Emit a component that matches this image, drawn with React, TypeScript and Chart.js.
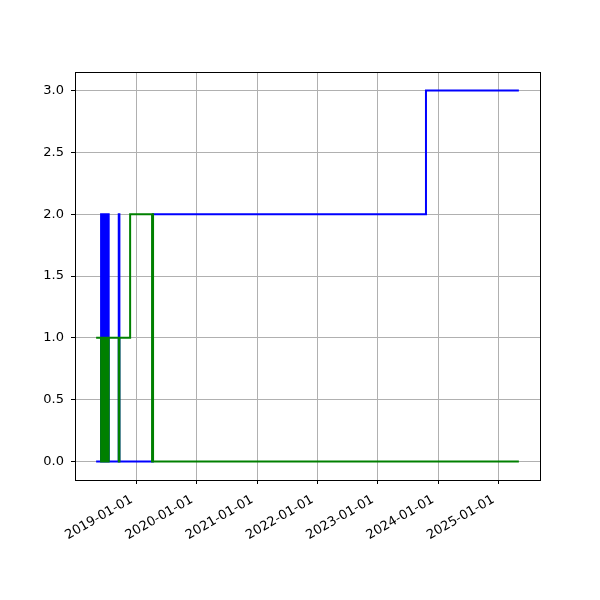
import React, { useEffect, useRef } from "react";
import { Chart, registerables } from "chart.js";

Chart.register(...registerables);

// Step-change points (value holds from this date until the next one)
const blueDates = [
  "2018-04-30", "2018-05-30", "2018-06-02", "2018-06-05", "2018-06-08", "2018-06-11",
  "2018-06-14", "2018-06-17", "2018-06-20", "2018-06-23", "2018-06-26", "2018-06-29",
  "2018-07-02", "2018-07-05", "2018-07-08", "2018-07-11", "2018-07-15", "2018-09-14",
  "2018-09-18", "2019-04-09", "2023-10-20", "2025-05-05",
];
const blueValues = [
  0, 2, 0, 2, 0, 2,
  0, 2, 0, 2, 0, 2,
  0, 2, 0, 2, 0, 2,
  0, 2, 3, 3,
];

const greenDates = [
  "2018-04-30", "2018-05-30", "2018-06-02", "2018-06-05", "2018-06-08", "2018-06-11",
  "2018-06-14", "2018-06-17", "2018-06-20", "2018-06-23", "2018-06-26", "2018-06-29",
  "2018-07-02", "2018-07-05", "2018-07-08", "2018-07-11", "2018-07-15", "2018-09-14",
  "2018-09-18", "2018-11-22", "2019-04-04", "2019-04-06", "2019-04-10", "2025-05-05",
];
const greenValues = [
  1, 0, 1, 0, 1, 0,
  1, 0, 1, 0, 1, 0,
  1, 0, 1, 0, 1, 0,
  1, 2, 0, 2, 0, 0,
];

const tickYears = [2019, 2020, 2021, 2022, 2023, 2024, 2025];
const yTickStep = 0.5;

const toMs = (d: string) => {
  const [y, m, day] = d.split("-").map(Number);
  return Date.UTC(y, m - 1, day);
};

const pad2 = (n: number) => (n < 10 ? "0" + n : "" + n);
const fmtDate = (ms: number) => {
  const d = new Date(ms);
  return `${d.getUTCFullYear()}-${pad2(d.getUTCMonth() + 1)}-${pad2(d.getUTCDate())}`;
};

const framePlugin = {
  id: "frame",
  afterDraw(chart: any) {
    const { ctx, chartArea } = chart;
    ctx.save();
    ctx.strokeStyle = "#000";
    ctx.lineWidth = 1;
    ctx.strokeRect(
      Math.round(chartArea.left) + 0.5,
      Math.round(chartArea.top) + 0.5,
      Math.round(chartArea.right - chartArea.left),
      Math.round(chartArea.bottom - chartArea.top)
    );
    ctx.restore();
  },
};

export default function App() {
  const ref = useRef<HTMLCanvasElement | null>(null);

  useEffect(() => {
    if (!ref.current) return;
    const blue = blueDates.map((d, i) => ({ x: toMs(d), y: blueValues[i] }));
    const green = greenDates.map((d, i) => ({ x: toMs(d), y: greenValues[i] }));
    const allX = [...blue, ...green].map((p) => p.x);
    const allY = [...blueValues, ...greenValues];
    const xMin = Math.min(...allX);
    const xMax = Math.max(...allX);
    const yMin = Math.min(...allY);
    const yMax = Math.max(...allY);
    const xm = (xMax - xMin) * 0.05;
    const ym = (yMax - yMin) * 0.05;
    const font = { family: "'DejaVu Sans', sans-serif", size: 13 };

    const chart = new Chart(ref.current, {
      type: "line",
      data: {
        datasets: [
          {
            data: blue,
            borderColor: "#0000ff",
            borderWidth: 2,
            pointRadius: 0,
            stepped: "before",
            fill: false,
            order: 1,
          },
          {
            data: green,
            borderColor: "#008000",
            borderWidth: 2,
            pointRadius: 0,
            stepped: "before",
            fill: false,
            order: 0,
          },
        ],
      },
      plugins: [framePlugin],
      options: {
        animation: false,
        responsive: false,
        parsing: false,
        layout: { padding: { top: 72, right: 60, left: 0, bottom: 0 } },
        plugins: { legend: { display: false }, tooltip: { enabled: false } },
        scales: {
          x: {
            type: "linear",
            min: xMin - xm,
            max: xMax + xm,
            afterBuildTicks: (scale: any) => {
              scale.ticks = tickYears.map((y) => ({ value: Date.UTC(y, 0, 1) }));
            },
            afterFit: (scale: any) => {
              scale.height = 120;
            },
            ticks: {
              callback: (v: any) => fmtDate(Number(v)),
              minRotation: 30,
              maxRotation: 30,
              autoSkip: false,
              color: "#000",
              font,
              padding: 8,
              labelOffset: -5,
            },
            grid: {
              color: "#b0b0b0",
              lineWidth: 1,
              tickLength: 4,
              tickColor: "#000",
            },
            border: { display: false },
          },
          y: {
            type: "linear",
            min: yMin - ym,
            max: yMax + ym,
            afterFit: (scale: any) => {
              scale.width = 75;
            },
            ticks: {
              stepSize: yTickStep,
              includeBounds: false,
              callback: (v: any) => Number(v).toFixed(1),
              color: "#000",
              font,
              padding: 7,
            },
            grid: {
              color: "#b0b0b0",
              lineWidth: 1,
              tickLength: 4,
              tickColor: "#000",
            },
            border: { display: false },
          },
        },
      },
    });
    return () => chart.destroy();
  }, []);

  return (
    <div style={{ position: "absolute", left: 0, top: 0, width: 600, height: 600, background: "#fff" }}>
      <canvas ref={ref} width={600} height={600} style={{ width: 600, height: 600 }} />
    </div>
  );
}
